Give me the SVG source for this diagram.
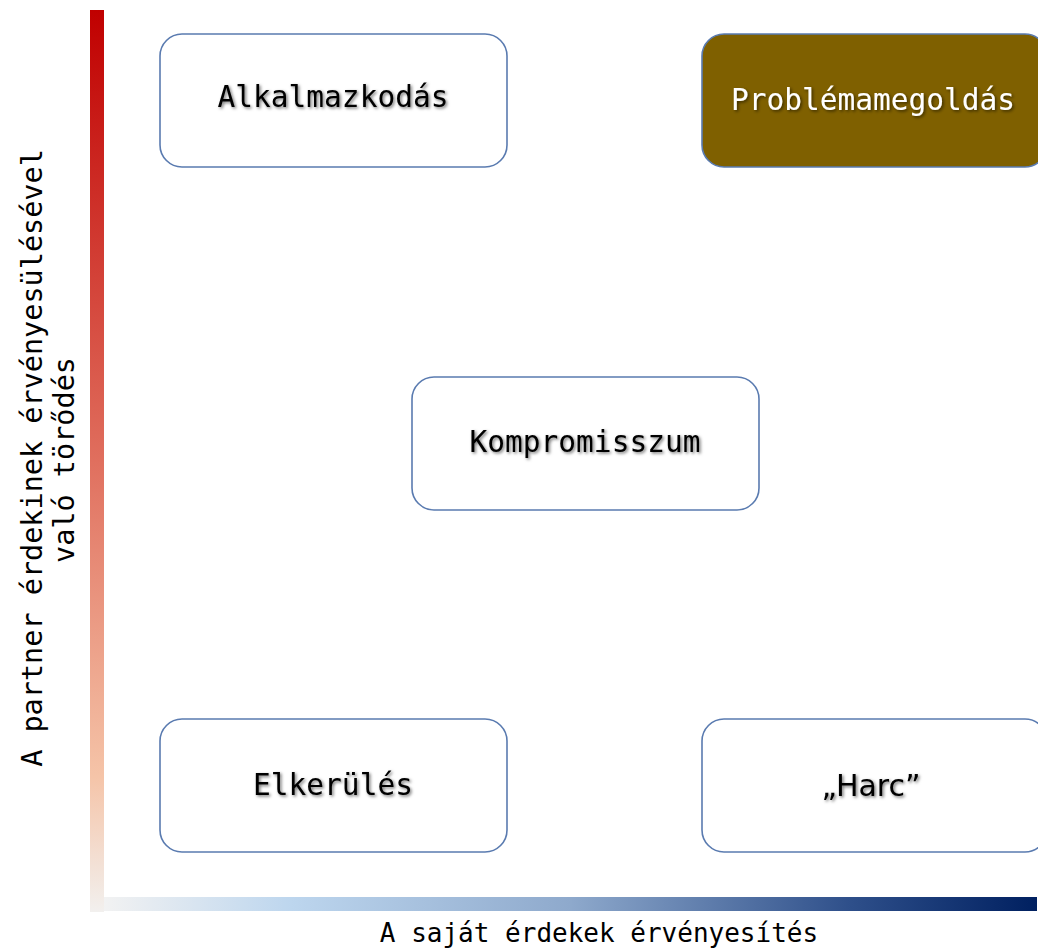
<svg xmlns="http://www.w3.org/2000/svg" width="1038" height="948" viewBox="0 0 1038 948">
<defs>
<linearGradient id="gv" x1="0" y1="0" x2="0" y2="1">
<stop offset="0" stop-color="#c00000"/>
<stop offset="0.5" stop-color="#e06f5e"/>
<stop offset="0.85" stop-color="#f5c4a8"/>
<stop offset="1" stop-color="#f2f0ee"/>
</linearGradient>
<linearGradient id="gh" x1="0" y1="0" x2="1" y2="0">
<stop offset="0" stop-color="#f2f2f2"/>
<stop offset="0.2" stop-color="#bdd6ee"/>
<stop offset="0.5" stop-color="#8ea9cc"/>
<stop offset="0.8" stop-color="#2e4f8a"/>
<stop offset="1" stop-color="#002060"/>
</linearGradient>
<filter id="sh" x="-10%" y="-30%" width="120%" height="160%">
<feDropShadow dx="1.5" dy="1.5" stdDeviation="1.5" flood-color="#000" flood-opacity="0.55"/>
</filter>
</defs>
<style>
.box{fill:#fff;stroke:#5a7bb0;stroke-width:1.6}
.dark{fill:#7f6000;stroke:#5a7bb0;stroke-width:1.6}
.lbl{font-family:"DejaVu Sans Mono","Liberation Mono",monospace;font-size:29.5px;text-anchor:middle;fill:#000;filter:url(#sh)}
.axis{font-family:"DejaVu Sans Mono","Liberation Mono",monospace;font-size:28.5px;text-anchor:middle;fill:#000}
</style>
<g id="axes">
<rect x="90" y="10" width="14" height="902" fill="url(#gv)"/>
<rect x="104" y="897" width="933" height="14" fill="url(#gh)"/>
</g>
<g id="connectors"></g>
<g id="node-alkalmazkodas">
<rect class="box" x="160" y="34" width="347" height="133" rx="22"/>
<text class="lbl" x="333" y="107">Alkalmazkodás</text>
</g>
<g id="node-problemamegoldas">
<rect class="dark" x="702" y="34" width="345" height="133" rx="22"/>
<text class="lbl" x="873" y="110" style="fill:#fff">Problémamegoldás</text>
</g>
<g id="node-kompromisszum">
<rect class="box" x="412" y="377" width="347" height="133" rx="22"/>
<text class="lbl" x="585" y="452">Kompromisszum</text>
</g>
<g id="node-elkerules">
<rect class="box" x="160" y="719" width="347" height="133" rx="22"/>
<text class="lbl" x="333" y="795">Elkerülés</text>
</g>
<g id="node-harc">
<rect class="box" x="702" y="719" width="345" height="133" rx="22"/>
<text class="lbl" x="871" y="796" style="font-family:'DejaVu Sans',Verdana,sans-serif;font-size:30px">„Harc”</text>
</g>
<g id="labels">
<text class="axis" transform="translate(42,458) rotate(-90)">A partner érdekinek érvényesülésével</text>
<text class="axis" transform="translate(74,460) rotate(-90)">való törődés</text>
<text class="axis" x="599" y="942" style="font-size:26px">A saját érdekek érvényesítés</text>
</g>
</svg>
